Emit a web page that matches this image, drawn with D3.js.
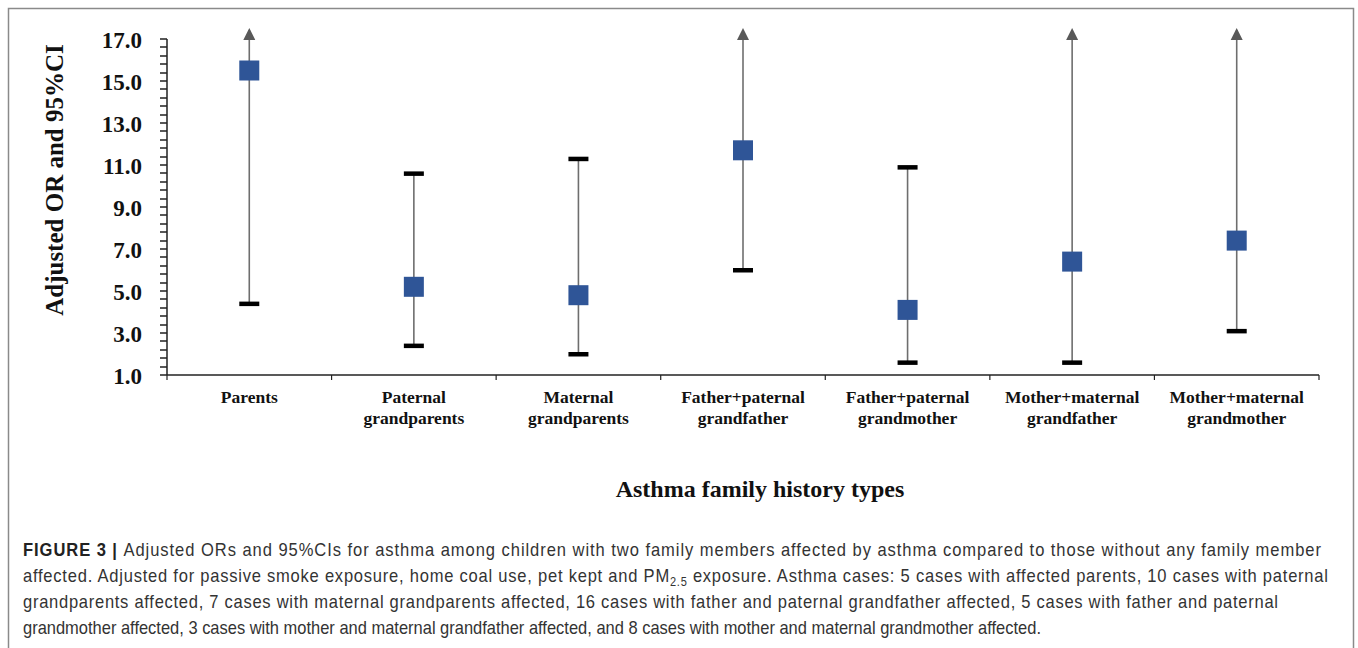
<!DOCTYPE html>
<html>
<head>
<meta charset="utf-8">
<script src="https://cdn.jsdelivr.net/npm/d3@7"></script>
<style>
  body { margin: 0; background: #fff; }
  .axis text { font-family: "Liberation Serif", "Times New Roman", serif; font-weight: bold; }
</style>
</head>
<body>
<div id="chart"></div>
<script>
var categories = [
    ["Parents"],
    ["Paternal", "grandparents"],
    ["Maternal", "grandparents"],
    ["Father+paternal", "grandfather"],
    ["Father+paternal", "grandmother"],
    ["Mother+maternal", "grandfather"],
    ["Mother+maternal", "grandmother"]
];
var orValues = [15.5, 5.2, 4.8, 11.7, 4.1, 6.4, 7.4];
var ciLower = [4.4, 2.4, 2.0, 6.0, 1.6, 1.6, 3.1];
// null = upper limit runs past the top of the axis (drawn as an arrow)
var ciUpper = [null, 10.6, 11.3, null, 10.9, null, null];
var yTicks = [1, 3, 5, 7, 9, 11, 13, 15, 17];

var captionLines = [
    [{t: "FIGURE 3 | ", b: true}, {t: "Adjusted ORs and 95%CIs for asthma among children with two family members affected by asthma compared to those without any family member"}],
    [{t: "affected. Adjusted for passive smoke exposure, home coal use, pet kept and PM"}, {t: "2.5", sub: true}, {t: " exposure. Asthma cases: 5 cases with affected parents, 10 cases with paternal"}],
    [{t: "grandparents affected, 7 cases with maternal grandparents affected, 16 cases with father and paternal grandfather affected, 5 cases with father and paternal"}],
    [{t: "grandmother affected, 3 cases with mother and maternal grandfather affected, and 8 cases with mother and maternal grandmother affected."}]
];
var captionWidths = [1298, 1305, 1255, 1018];

var W = 1358, H = 648;
var margin = {top: 39, right: 39, bottom: 273, left: 167},
    width = W - margin.left - margin.right,
    height = H - margin.top - margin.bottom;

var svg = d3.select("#chart").append("svg")
    .attr("width", W)
    .attr("height", H);

// frame round the figure
svg.append("rect")
    .attr("x", 8.5).attr("y", 8.5)
    .attr("width", 1345).attr("height", 660)
    .attr("fill", "none")
    .attr("stroke", "#8a8a8a")
    .attr("stroke-width", 1.5);

var g = svg.append("g")
    .attr("transform", "translate(" + margin.left + "," + margin.top + ")");

var x = d3.scaleBand()
    .domain(d3.range(categories.length))
    .range([0, width]);

var y = d3.scaleLinear()
    .domain([1, 17])
    .range([height, 0]);

// y axis: minor ticks every 0.4, drawn as one path
var minor = d3.range(0, 41).map(function (i) { return 1 + i * 0.4; });
g.append("path")
    .attr("d", minor.map(function (d) {
        var yy = Math.round(y(d));
        return "M-7," + yy + "H0";
    }).join("") + "M0,0V" + height)
    .attr("fill", "none")
    .attr("stroke", "#222")
    .attr("stroke-width", 1.5);

g.append("g")
    .attr("class", "axis")
    .call(d3.axisLeft(y).tickValues(yTicks).tickSize(0).tickPadding(25).tickFormat(d3.format(".1f")))
    .call(function (s) {
        s.select(".domain").remove();
        s.selectAll("text").attr("font-size", 23).attr("fill", "#111").attr("dy", "0.35em");
    });

// x axis: ticks at category boundaries
var bounds = d3.range(categories.length + 1).map(function (i) { return i * x.step(); });
var xAxis = g.append("g")
    .attr("class", "axis")
    .attr("transform", "translate(0," + height + ")");
xAxis.append("line")
    .attr("x1", 0).attr("x2", width)
    .attr("stroke", "#222").attr("stroke-width", 1.5);
xAxis.selectAll(".btick")
    .data(bounds)
    .enter()
    .append("line")
    .attr("x1", function (d) { return d; })
    .attr("x2", function (d) { return d; })
    .attr("y1", 0).attr("y2", 5)
    .attr("stroke", "#222").attr("stroke-width", 1.2);

xAxis.selectAll(".xlabel")
    .data(categories)
    .enter()
    .append("text")
    .attr("text-anchor", "middle")
    .attr("font-size", 17.5)
    .attr("fill", "#111")
    .attr("transform", function (d, i) {
        return "translate(" + (x(i) + x.bandwidth() / 2) + ",0)";
    })
    .selectAll("tspan")
    .data(function (d) { return d; })
    .enter()
    .append("tspan")
    .attr("x", 0)
    .attr("y", function (d, i) { return 28 + i * 21; })
    .text(String);

var cx = function (i) { return x(i) + x.bandwidth() / 2; };
var topY = -11;

// CI lines
var bars = g.selectAll(".ci")
    .data(orValues)
    .enter()
    .append("g")
    .attr("class", "ci");

bars.append("line")
    .attr("x1", function (d, i) { return cx(i); })
    .attr("x2", function (d, i) { return cx(i); })
    .attr("y1", function (d, i) { return y(ciLower[i]); })
    .attr("y2", function (d, i) { return ciUpper[i] === null ? topY + 2 : y(ciUpper[i]); })
    .attr("stroke", "#6e6e6e")
    .attr("stroke-width", 1.6);

// lower caps
bars.append("rect")
    .attr("x", function (d, i) { return cx(i) - 10; })
    .attr("y", function (d, i) { return y(ciLower[i]) - 2; })
    .attr("width", 20)
    .attr("height", 4.5)
    .attr("fill", "#000");

// upper caps or arrows
bars.filter(function (d, i) { return ciUpper[i] !== null; })
    .append("rect")
    .attr("x", function (d) { var i = orValues.indexOf(d); return cx(i) - 10; })
    .attr("y", function (d) { var i = orValues.indexOf(d); return y(ciUpper[i]) - 2; })
    .attr("width", 20)
    .attr("height", 4.5)
    .attr("fill", "#000");

bars.filter(function (d, i) { return ciUpper[i] === null; })
    .append("path")
    .attr("d", function (d) {
        var i = orValues.indexOf(d), c = cx(i);
        return "M" + c + "," + topY + "L" + (c - 6) + "," + (topY + 12) + "L" + (c + 6) + "," + (topY + 12) + "Z";
    })
    .attr("fill", "#595959");

// point estimates
bars.append("rect")
    .attr("x", function (d, i) { return cx(i) - 10; })
    .attr("y", function (d) { return y(d) - 10; })
    .attr("width", 20)
    .attr("height", 20)
    .attr("fill", "#2F5597");

// axis titles
svg.append("text")
    .attr("transform", "translate(63,180) rotate(-90)")
    .attr("text-anchor", "middle")
    .attr("font-family", "Liberation Serif, serif")
    .attr("font-weight", "bold")
    .attr("font-size", 25)
    .attr("fill", "#111")
    .text("Adjusted OR and 95%CI");

svg.append("text")
    .attr("x", 760)
    .attr("y", 497)
    .attr("text-anchor", "middle")
    .attr("font-family", "Liberation Serif, serif")
    .attr("font-weight", "bold")
    .attr("font-size", 24)
    .attr("fill", "#111")
    .text("Asthma family history types");

// caption: condensed look via horizontal scale, lines justified
var sx = 0.92;
var cap = svg.append("g")
    .attr("font-family", "Liberation Sans, Arial, sans-serif")
    .attr("fill", "#333")
    .attr("transform", "scale(" + sx + ",1)");
captionLines.forEach(function (line, li) {
    var t = cap.append("text")
        .attr("x", 23 / sx)
        .attr("y", 556 + li * 26)
        .attr("font-size", 18)
        .attr("textLength", captionWidths[li] / sx)
        .attr("lengthAdjust", li < 3 ? "spacing" : "spacingAndGlyphs");
    line.forEach(function (p) {
        var s = t.append("tspan").text(p.t);
        if (p.b) s.attr("font-weight", "bold").attr("fill", "#222");
        if (p.sub) s.attr("font-size", 12).attr("dy", 4);
        else if (line.some(function (q) { return q.sub; }) && line.indexOf(p) > 0) s.attr("dy", -4);
    });
});
</script>
</body>
</html>
